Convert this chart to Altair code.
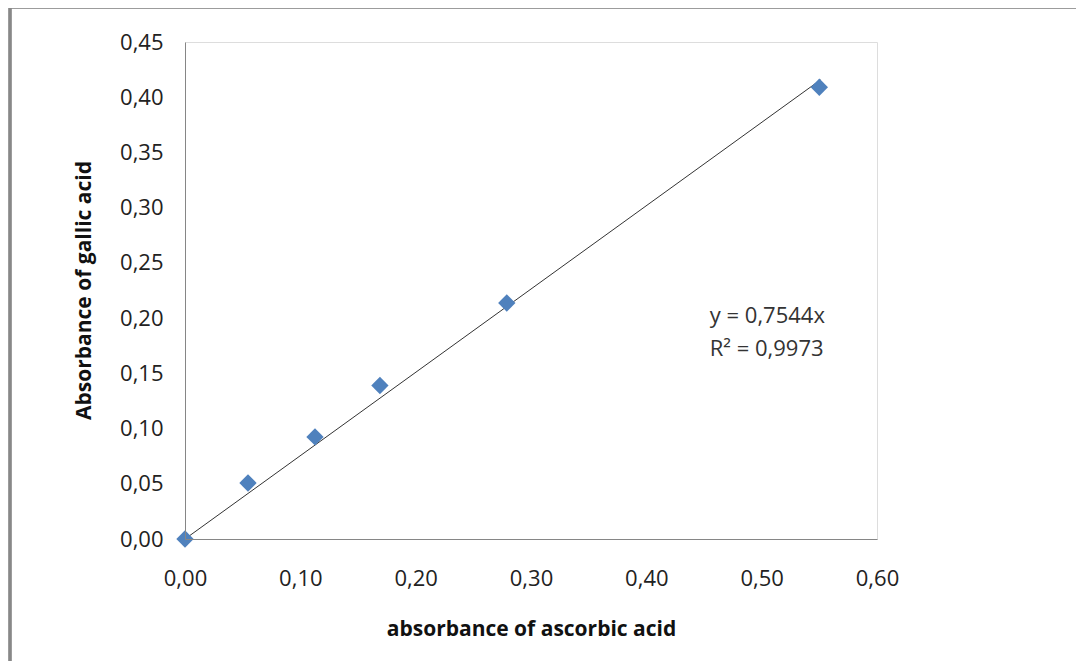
import altair as alt
import pandas as pd

# Data
ascorbic = [0.0, 0.0546, 0.1127, 0.169, 0.279, 0.550]
gallic = [0.0, 0.0507, 0.0924, 0.139, 0.2137, 0.409]

trend_x = [0.0, 0.551]
trend_y = [0.0, 0.4157]

ann_x = [0.455, 0.455]
ann_y = [0.202, 0.172]
ann_text = ["y = 0,7544x", "R² = 0,9973"]

pts = pd.DataFrame({"x": ascorbic, "y": gallic})
trend = pd.DataFrame({"x": trend_x, "y": trend_y})
ann = pd.DataFrame({"x": ann_x, "y": ann_y, "t": ann_text})

FONT = "Open Sans"
W, H = 692, 497

xscale = alt.Scale(domain=[0, 0.6], nice=False, zero=True)
yscale = alt.Scale(domain=[0, 0.45], nice=False, zero=True)

label_expr = "replace(format(datum.value, '.2f'), '.', ',')"

xaxis = alt.Axis(
    values=[0, 0.1, 0.2, 0.3, 0.4, 0.5, 0.6],
    labelExpr=label_expr,
    labelFlush=False,
    labelOverlap=False,
    ticks=False,
    grid=False,
    domainColor="#868686",
    domainWidth=1,
    labelPadding=29,
    labelFontSize=22,
    labelFont=FONT,
    labelColor="#222222",
    title="absorbance of ascorbic acid",
    titleFont=FONT,
    titleFontSize=21,
    titleFontWeight="bold",
    titleColor="#111111",
    titleY=90,
    titleX=W / 2,
    titleBaseline="middle",
    titleAlign="center",
    zindex=1,
)
yaxis = alt.Axis(
    values=[0, 0.05, 0.1, 0.15, 0.2, 0.25, 0.3, 0.35, 0.4, 0.45],
    labelExpr=label_expr,
    labelFlush=False,
    labelOverlap=False,
    ticks=False,
    grid=False,
    domainColor="#868686",
    domainWidth=1,
    labelPadding=22,
    labelFontSize=22,
    labelFont=FONT,
    labelColor="#222222",
    title="Absorbance of gallic acid",
    titleFont=FONT,
    titleFontSize=21,
    titleFontWeight="bold",
    titleColor="#111111",
    titleAngle=-90,
    titleX=-101,
    titleY=248,
    titleBaseline="middle",
    titleAlign="center",
    zindex=1,
)

frame = alt.Chart(pts).mark_rect(
    fill=None, stroke="#888888", strokeWidth=2.5
).encode(
    x=alt.value(-175), x2=alt.value(950),
    y=alt.value(-35), y2=alt.value(700),
)

line = alt.Chart(trend).mark_line(color="#333333", strokeWidth=1).encode(
    x=alt.X("x:Q", scale=xscale, axis=xaxis),
    y=alt.Y("y:Q", scale=yscale, axis=yaxis),
)

points = alt.Chart(pts).mark_point(
    shape="diamond", filled=True, color="#4F81BD", size=300, opacity=1
).encode(
    x=alt.X("x:Q", scale=xscale),
    y=alt.Y("y:Q", scale=yscale),
)

text = alt.Chart(ann).mark_text(
    align="left", baseline="middle", font=FONT, fontSize=22, color="#333333"
).encode(
    x=alt.X("x:Q", scale=xscale),
    y=alt.Y("y:Q", scale=yscale),
    text="t:N",
)

chart = alt.layer(frame, line, points, text).properties(
    width=W, height=H,
    autosize=alt.AutoSizeParams(type="none"),
    padding={"left": 177, "top": 34, "right": 199, "bottom": 122},
).configure_view(stroke="#000000", strokeWidth=1.2).configure(background="white")

chart.save("out.html", embed_options={"renderer": "svg", "actions": False})
